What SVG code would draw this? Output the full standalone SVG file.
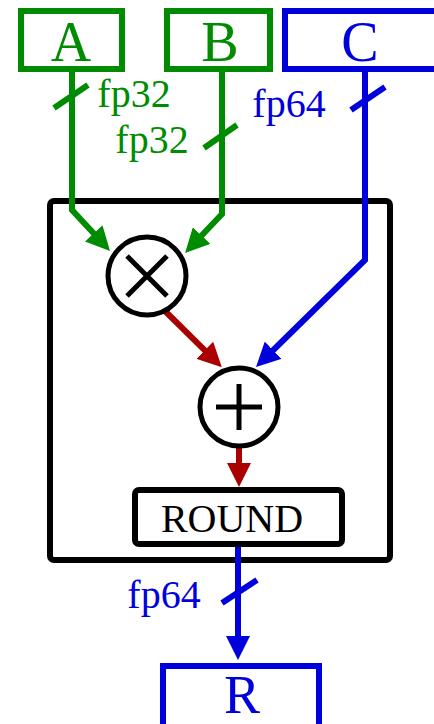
<svg xmlns="http://www.w3.org/2000/svg" width="434" height="724" viewBox="0 0 434 724">
<defs>
<style>
.g{stroke:#008c00;fill:none;stroke-width:6}
.b{stroke:#0000dd;fill:none;stroke-width:6}
.r{stroke:#aa0000;fill:none;stroke-width:6}
.k{stroke:#000;fill:#fff;stroke-width:6}
.t{font-family:'Liberation Serif','DejaVu Serif',serif;text-anchor:middle}
.gt{fill:#008c00}
.bt{fill:#0000dd}
</style>
<marker id="ag" markerUnits="userSpaceOnUse" markerWidth="24" markerHeight="24" refX="4" refY="12" orient="auto"><path d="M0,0 L24,12 L0,24 z" fill="#008c00"/></marker>
<marker id="ab" markerUnits="userSpaceOnUse" markerWidth="24" markerHeight="24" refX="4" refY="12" orient="auto"><path d="M0,0 L24,12 L0,24 z" fill="#0000dd"/></marker>
<marker id="ar" markerUnits="userSpaceOnUse" markerWidth="24" markerHeight="24" refX="4" refY="12" orient="auto"><path d="M0,0 L24,12 L0,24 z" fill="#aa0000"/></marker>
</defs>
<rect width="434" height="724" fill="#fff"/>
<g id="container"><rect x="50" y="201" width="340" height="359" rx="4" fill="none" stroke="#000" stroke-width="6"/></g>
<g id="connectors">
<path class="g" d="M72,71 V210 L96.4,236.3" marker-end="url(#ag)"/>
<path class="g" d="M222,71 V214 L198.8,238.5" marker-end="url(#ag)"/>
<path class="b" d="M365,71 V260 L270.3,353" marker-end="url(#ab)"/>
<path class="r" d="M165,311 L207.6,353.1" marker-end="url(#ar)"/>
<path class="r" d="M239,448 V467" marker-end="url(#ar)"/>
<path class="b" d="M238,547 V640" marker-end="url(#ab)"/>
<line class="g" x1="54" y1="108" x2="88" y2="85"/>
<line class="g" x1="204" y1="148" x2="237" y2="125"/>
<line class="b" x1="351" y1="110" x2="385" y2="87"/>
<line class="b" x1="222" y1="603" x2="257" y2="580"/>
<text class="t gt" x="134" y="107" font-size="40" font-family="Liberation Serif, serif">fp32</text>
<text class="t gt" x="152" y="153" font-size="40" font-family="Liberation Serif, serif">fp32</text>
<text class="t bt" x="289" y="117" font-size="40" font-family="Liberation Serif, serif">fp64</text>
<text class="t bt" x="164" y="608" font-size="40" font-family="Liberation Serif, serif">fp64</text>
</g>
<g id="A"><rect x="21" y="11" width="101" height="58" fill="#fff" class="g"/><text class="t gt" x="71" y="61" font-size="56" font-family="Liberation Serif, serif">A</text></g>
<g id="B"><rect x="167" y="11" width="103" height="58" fill="#fff" class="g"/><text class="t gt" x="220" y="61" font-size="56" font-family="Liberation Serif, serif">B</text></g>
<g id="C"><rect x="285" y="11" width="160" height="58" fill="#fff" class="b"/><text class="t bt" x="360" y="61" font-size="56" font-family="Liberation Serif, serif">C</text></g>
<g id="mul"><circle cx="147" cy="276" r="39" fill="#fff" stroke="#000" stroke-width="5"/><path d="M127,256 L167,296 M167,256 L127,296" stroke="#000" stroke-width="5"/></g>
<g id="add"><circle cx="239" cy="407" r="39" fill="#fff" stroke="#000" stroke-width="5"/><path d="M216,407 H262 M239,384 V430" stroke="#000" stroke-width="5"/></g>
<g id="round"><rect x="135" y="490" width="207" height="54" rx="4" class="k"/><text class="t" x="232" y="532" font-size="40" fill="#000" font-family="Liberation Serif, serif">ROUND</text></g>
<g id="R"><rect x="163" y="666" width="156" height="64" fill="#fff" class="b"/><text class="t bt" x="242" y="713" font-size="54" font-family="Liberation Serif, serif">R</text></g>
</svg>
